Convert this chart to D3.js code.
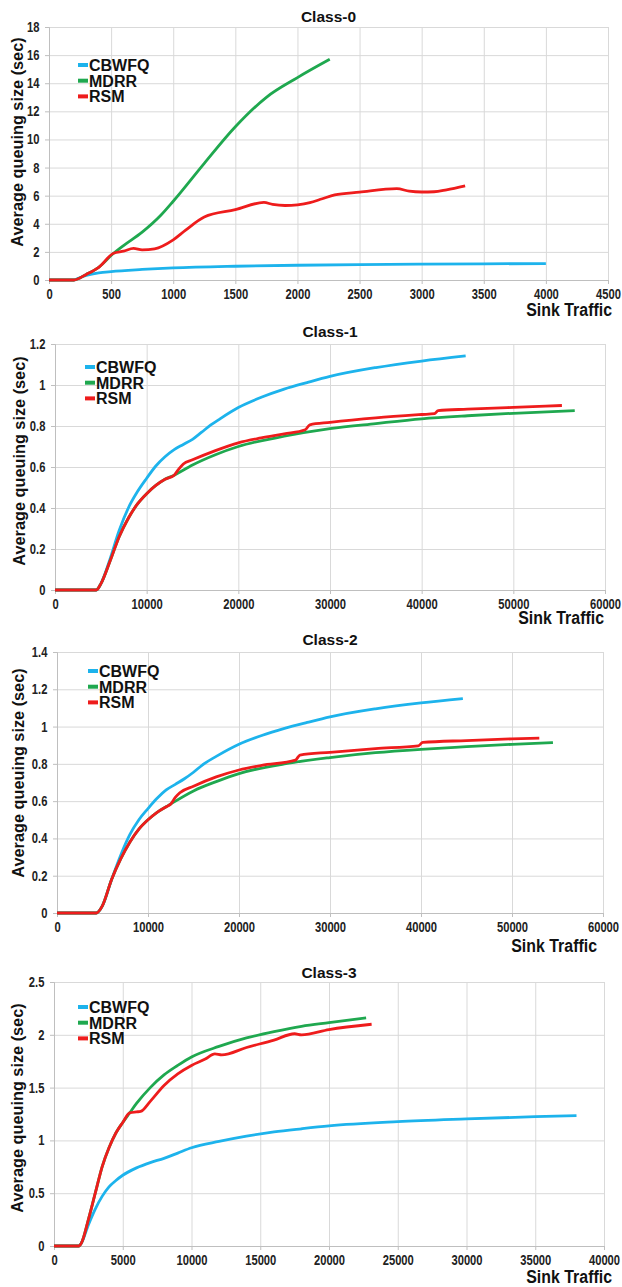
<!DOCTYPE html>
<html>
<head>
<meta charset="utf-8">
<script src="https://cdn.jsdelivr.net/npm/d3@7"></script>
<style>
  body { margin: 0; background: #fff; }
  text { font-family: "Liberation Sans", Arial, sans-serif; font-weight: bold; fill: #111; }
  .tick text { fill: #222; }
</style>
</head>
<body>
<svg id="chart" width="622" height="1287"></svg>
<script>
// Series names and colours
let seriesNames = ["CBWFQ", "MDRR", "RSM"];
let seriesColors = ["#1db3ec", "#1fa84f", "#ee1c1c"];

// Class-0 data [sink traffic, avg queuing size]
let c0Cbwfq = [[0,0],[200,0],[250,0.18],[300,0.32],[400,0.5],[500,0.6],[750,0.75],[1000,0.86],[1500,0.98],[2000,1.05],[2500,1.1],[3000,1.13],[3500,1.15],[4000,1.17]];
let c0Mdrr = [[0,0],[200,0],[300,0.4],[400,0.9],[520,1.9],[600,2.45],[750,3.4],[900,4.6],[1000,5.6],[1250,8.3],[1500,10.9],[1750,13.0],[2000,14.4],[2260,15.7]];
let c0Rsm = [[0,0],[200,0],[300,0.4],[400,0.9],[520,1.9],[600,2.05],[680,2.25],[750,2.14],[850,2.22],[1000,2.86],[1100,3.55],[1250,4.48],[1500,5.0],[1730,5.52],[1800,5.38],[1900,5.3],[2000,5.35],[2100,5.5],[2200,5.78],[2300,6.05],[2500,6.25],[2800,6.5],[2900,6.32],[3000,6.26],[3100,6.28],[3200,6.42],[3350,6.7]];

// Class-1 data
let c1Cbwfq = [[0,0],[4500,0],[5000,0.03],[6000,0.15],[7000,0.29],[8000,0.4],[9000,0.48],[10000,0.545],[11000,0.605],[12000,0.65],[13000,0.685],[14000,0.71],[15000,0.735],[16000,0.77],[17000,0.805],[18000,0.835],[20000,0.89],[22500,0.94],[25000,0.98],[27500,1.012],[30000,1.042],[35000,1.085],[40000,1.117],[44800,1.142]];
let c1Mdrr = [[0,0],[4500,0],[5000,0.03],[6000,0.14],[7000,0.26],[8000,0.35],[9000,0.42],[10000,0.47],[11000,0.51],[12000,0.54],[13000,0.56],[15000,0.61],[17500,0.66],[20000,0.7],[25000,0.75],[30000,0.787],[35000,0.812],[40000,0.835],[45000,0.85],[50000,0.862],[56700,0.875]];
let c1Rsm = [[0,0],[4500,0],[5000,0.03],[6000,0.14],[7000,0.26],[8000,0.35],[9000,0.42],[10000,0.47],[11000,0.51],[12000,0.54],[13000,0.56],[13500,0.59],[14000,0.615],[15000,0.635],[17500,0.68],[20000,0.718],[22500,0.742],[25000,0.762],[27300,0.782],[27800,0.806],[30000,0.818],[35000,0.84],[40000,0.856],[41400,0.86],[41800,0.875],[45000,0.882],[50000,0.891],[55300,0.9]];

// Class-2 data
let c2Cbwfq = [[0,0],[4300,0],[5000,0.04],[6000,0.18],[7000,0.31],[8000,0.42],[9000,0.5],[10000,0.56],[11000,0.615],[12000,0.66],[13000,0.69],[14000,0.72],[15000,0.755],[16000,0.795],[17500,0.84],[20000,0.905],[22500,0.952],[25000,0.99],[27500,1.022],[30000,1.052],[35000,1.095],[40000,1.127],[44600,1.15]];
let c2Mdrr = [[0,0],[4300,0],[5000,0.04],[6000,0.18],[7000,0.29],[8000,0.38],[9000,0.45],[10000,0.5],[11000,0.54],[12000,0.57],[12500,0.585],[15000,0.655],[17500,0.705],[20000,0.748],[25000,0.8],[30000,0.834],[35000,0.86],[40000,0.878],[45000,0.892],[50000,0.905],[54500,0.914]];
let c2Rsm = [[0,0],[4300,0],[5000,0.04],[6000,0.18],[7000,0.29],[8000,0.38],[9000,0.45],[10000,0.5],[11000,0.54],[12000,0.57],[12500,0.585],[13000,0.62],[13500,0.645],[15000,0.68],[17500,0.73],[20000,0.767],[22500,0.792],[26200,0.82],[26700,0.847],[30000,0.862],[35000,0.882],[39700,0.897],[40200,0.915],[45000,0.925],[50000,0.934],[53000,0.938]];

// Class-3 data
let c3Cbwfq = [[0,0],[1800,0],[2000,0.03],[2500,0.2],[3000,0.35],[3500,0.47],[4000,0.56],[4500,0.62],[5000,0.67],[6000,0.74],[7000,0.79],[8000,0.83],[9000,0.88],[10000,0.93],[12000,0.99],[14000,1.04],[16000,1.08],[18000,1.11],[20000,1.137],[25000,1.177],[30000,1.203],[35000,1.225],[38000,1.235]];
let c3Mdrr = [[0,0],[1800,0],[2000,0.03],[2500,0.25],[3000,0.5],[3500,0.75],[4000,0.93],[4500,1.07],[5000,1.17],[5500,1.26],[6000,1.35],[7000,1.5],[8000,1.62],[9000,1.71],[10000,1.79],[12000,1.89],[14000,1.97],[16000,2.03],[18000,2.08],[20000,2.115],[22700,2.16]];
let c3Rsm = [[0,0],[1800,0],[2000,0.03],[2500,0.25],[3000,0.5],[3500,0.75],[4000,0.93],[4500,1.07],[5000,1.17],[5500,1.26],[6000,1.27],[6300,1.275],[7000,1.37],[8000,1.52],[9000,1.63],[10000,1.71],[11000,1.77],[11700,1.82],[12200,1.81],[14000,1.88],[16000,1.95],[17500,2.01],[18000,2.0],[20000,2.05],[23100,2.1]];

// Axis ticks for each class
let c0XTicks = [0, 500, 1000, 1500, 2000, 2500, 3000, 3500, 4000, 4500];
let c0YTicks = [0, 2, 4, 6, 8, 10, 12, 14, 16, 18];
let c1XTicks = [0, 10000, 20000, 30000, 40000, 50000, 60000];
let c1YTicks = [0, 0.2, 0.4, 0.6, 0.8, 1, 1.2];
let c2XTicks = [0, 10000, 20000, 30000, 40000, 50000, 60000];
let c2YTicks = [0, 0.2, 0.4, 0.6, 0.8, 1, 1.2, 1.4];
let c3XTicks = [0, 5000, 10000, 15000, 20000, 25000, 30000, 35000, 40000];
let c3YTicks = [0, 0.5, 1, 1.5, 2, 2.5];

let titles = ["Class-0", "Class-1", "Class-2", "Class-3"];

// Panel layout
let panels = [
  { title: titles[0], series: [c0Cbwfq, c0Mdrr, c0Rsm], xTicks: c0XTicks, yTicks: c0YTicks,
    left: 49, right: 608, top: 27, bottom: 280, titleY: 22, sinkY: 316, sinkX: 612, ylabX: 17, ylabY: 142, legX: 78, legY: 65 },
  { title: titles[1], series: [c1Cbwfq, c1Mdrr, c1Rsm], xTicks: c1XTicks, yTicks: c1YTicks,
    left: 55, right: 605, top: 344, bottom: 590, titleY: 337, sinkY: 624, sinkX: 604, ylabX: 19, ylabY: 461, legX: 85, legY: 367 },
  { title: titles[2], series: [c2Cbwfq, c2Mdrr, c2Rsm], xTicks: c2XTicks, yTicks: c2YTicks,
    left: 57, right: 603, top: 652, bottom: 913, titleY: 645, sinkY: 952, sinkX: 597, ylabX: 18, ylabY: 773, legX: 88, legY: 671 },
  { title: titles[3], series: [c3Cbwfq, c3Mdrr, c3Rsm], xTicks: c3XTicks, yTicks: c3YTicks,
    left: 54, right: 604, top: 982, bottom: 1246, titleY: 978, sinkY: 1283, sinkX: 612, ylabX: 17, ylabY: 1108, legX: 78, legY: 1007 }
];

let svg = d3.select("#chart");

// the source picture is squeezed sideways, so horizontal texts are narrowed
let squeeze = 0.8;

function drawPanel(p) {
  let g = svg.append("g");
  let x = d3.scaleLinear().domain([0, d3.max(p.xTicks)]).range([p.left, p.right]);
  let y = d3.scaleLinear().domain([0, d3.max(p.yTicks)]).range([p.bottom, p.top]);

  // gridlines
  g.append("g")
    .attr("transform", "translate(0," + p.bottom + ")")
    .call(d3.axisBottom(x).tickValues(p.xTicks).tickSize(-(p.bottom - p.top)).tickFormat(""))
    .call(s => s.select(".domain").remove())
    .call(s => s.selectAll("line").attr("stroke", "#d9d9d9"));
  g.append("g")
    .attr("transform", "translate(" + p.left + ",0)")
    .call(d3.axisLeft(y).tickValues(p.yTicks).tickSize(-(p.right - p.left)).tickFormat(""))
    .call(s => s.select(".domain").remove())
    .call(s => s.selectAll("line").attr("stroke", "#d9d9d9"));

  // axes with labels
  g.append("g")
    .attr("transform", "translate(0," + p.bottom + ")")
    .call(d3.axisBottom(x).tickValues(p.xTicks).tickSize(4).tickPadding(5).tickFormat(d => d))
    .call(s => s.select(".domain").attr("stroke", "#bfbfbf"))
    .call(s => s.selectAll("line").attr("stroke", "#bfbfbf"))
    .call(s => s.selectAll("text").style("font-size", "14px").attr("transform", "scale(" + squeeze + ",1)"));
  g.append("g")
    .attr("transform", "translate(" + p.left + ",0)")
    .call(d3.axisLeft(y).tickValues(p.yTicks).tickSize(4).tickPadding(6).tickFormat(d => d))
    .call(s => s.select(".domain").attr("stroke", "#bfbfbf"))
    .call(s => s.selectAll("line").attr("stroke", "#bfbfbf"))
    .call(s => s.selectAll("text").style("font-size", "14px").attr("x", -12)
      .attr("transform", "scale(" + squeeze + ",1)"));

  // lines
  let line = d3.line()
    .x(d => x(d[0]))
    .y(d => y(d[1]))
    .curve(d3.curveMonotoneX);
  p.series.forEach((s, i) => {
    g.append("path")
      .datum(s)
      .attr("fill", "none")
      .attr("stroke", seriesColors[i])
      .attr("stroke-width", 2.8)
      .attr("stroke-linejoin", "round")
      .attr("d", line);
  });

  // title
  g.append("text")
    .attr("x", (p.left + p.right) / 2).attr("y", p.titleY)
    .attr("text-anchor", "middle").style("font-size", "15.5px")
    .text(p.title);

  // x label
  g.append("text")
    .attr("transform", "translate(" + p.sinkX + "," + p.sinkY + ") scale(0.86,1)")
    .attr("text-anchor", "end").style("font-size", "18.5px")
    .text("Sink Traffic");

  // y label
  g.append("text")
    .attr("transform", "translate(" + (p.ylabX + 6) + "," + p.ylabY + ") rotate(-90)")
    .attr("text-anchor", "middle").style("font-size", "16.3px")
    .text("Average queuing size (sec)");

  // legend
  seriesNames.forEach((n, i) => {
    let cy = p.legY + i * 15.7;
    g.append("rect")
      .attr("x", p.legX).attr("y", cy - 2)
      .attr("width", 10).attr("height", 4)
      .attr("fill", seriesColors[i]);
    g.append("text")
      .attr("x", p.legX + 11).attr("y", cy + 5.8)
      .style("font-size", "16px")
      .text(n);
  });
}

panels.forEach(drawPanel);
</script>
</body>
</html>
